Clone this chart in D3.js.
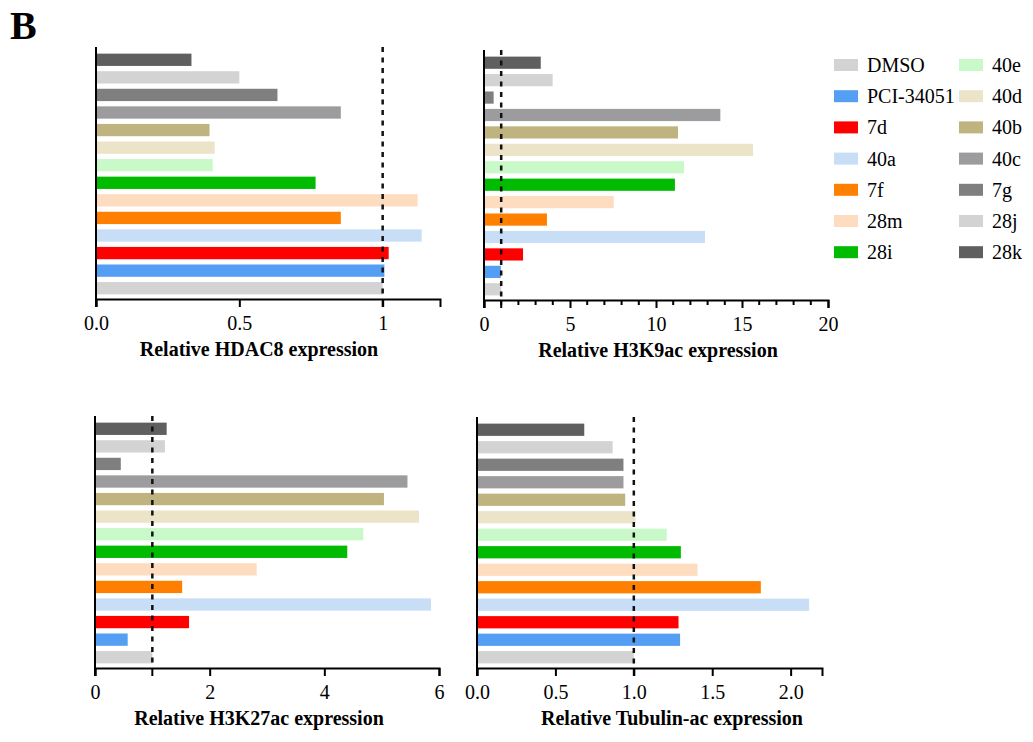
<!DOCTYPE html>
<html>
<head>
<meta charset="utf-8">
<script src="https://cdn.jsdelivr.net/npm/d3@7"></script>
<style>
  body { margin: 0; background: #fff; }
  svg { font-family: "Liberation Serif", "Times New Roman", serif; }
</style>
</head>
<body>
<div id="chart"></div>
<script>
// compounds, bottom to top in each panel
const groups = ['DMSO', 'PCI-34051', '7d', '40a', '7f', '28m', '28i', '40e', '40d', '40b', '40c', '7g', '28j', '28k'];
const colors = ['#d3d3d3', '#549ef3', '#ff0000', '#c8ddf6', '#ff7f00', '#fddcbf', '#00bb00',
  '#c9f9c9', '#ece4c8', '#bfb47f', '#9c9c9e', '#7f7f7f', '#d3d3d3', '#5f5f5f'];

const hdac8 = [1.0, 1.006, 1.021, 1.136, 0.854, 1.122, 0.766, 0.407, 0.414, 0.396, 0.854, 0.633, 0.50, 0.333];
const h3k9ac = [1.0, 0.98, 2.27, 12.85, 3.66, 7.54, 11.1, 11.63, 15.64, 11.28, 13.74, 0.56, 3.99, 3.30];
const h3k27ac = [1.0, 0.57, 1.64, 5.86, 1.52, 2.82, 4.40, 4.68, 5.65, 5.04, 5.45, 0.45, 1.22, 1.25];
const tubulinAc = [1.0, 1.295, 1.285, 2.118, 1.81, 1.406, 1.30, 1.21, 1.011, 0.945, 0.934, 0.934, 0.865, 0.684];

const panels = [
  { values: hdac8, title: 'Relative HDAC8 expression', max: 1.2,
    ticks: [0, 0.5, 1], fmt: d => d === 1 ? '1' : d3.format('.1f')(d), minor: [],
    x0: 96, x1: 440, top: 47, bottom: 299, titleX: 259 },
  { values: h3k9ac, title: 'Relative H3K9ac expression', max: 20,
    ticks: [0, 5, 10, 15, 20], fmt: d3.format('d'), minor: d3.range(1, 20),
    x0: 484, x1: 828, top: 50, bottom: 300, titleX: 658 },
  { values: h3k27ac, title: 'Relative H3K27ac expression', max: 6,
    ticks: [0, 2, 4, 6], fmt: d3.format('d'), minor: [],
    x0: 95, x1: 439, top: 416, bottom: 668, titleX: 259 },
  { values: tubulinAc, title: 'Relative Tubulin-ac expression', max: 2.2,
    ticks: [0, 0.5, 1, 1.5, 2], fmt: d3.format('.1f'), minor: [],
    x0: 477, x1: 822, top: 417, bottom: 668, titleX: 672 }
];

const svg = d3.select('#chart').append('svg')
  .attr('width', 1033)
  .attr('height', 742);

svg.append('text')
  .attr('x', 10)
  .attr('y', 39)
  .attr('font-size', '40px')
  .attr('font-weight', 'bold')
  .text('B');

panels.forEach(p => {
  const x = d3.scaleLinear().domain([0, p.max]).range([p.x0, p.x1]);
  const y = d3.scaleBand()
    .domain(groups.slice().reverse())
    .range([p.top + 4, p.bottom - 2])
    .paddingInner(0.3)
    .paddingOuter(0.15);

  const g = svg.append('g');

  g.selectAll('.bar')
    .data(groups)
    .enter().append('rect')
    .attr('class', 'bar')
    .attr('x', x(0))
    .attr('y', d => y(d))
    .attr('width', (d, i) => x(p.values[i]) - x(0))
    .attr('height', y.bandwidth())
    .style('fill', (d, i) => colors[i]);

  // minor ticks
  g.selectAll('.minor')
    .data(p.minor.filter(v => p.ticks.indexOf(v) < 0))
    .enter().append('line')
    .attr('x1', d => x(d)).attr('x2', d => x(d))
    .attr('y1', p.bottom).attr('y2', p.bottom + 5)
    .attr('stroke', '#000').attr('stroke-width', 2);

  const axis = g.append('g')
    .attr('transform', 'translate(0,' + p.bottom + ')')
    .call(d3.axisBottom(x).tickValues(p.ticks).tickFormat(p.fmt).tickSizeOuter(0).tickSize(8));
  axis.select('.domain').attr('stroke-width', 2);
  axis.selectAll('.tick line').attr('stroke-width', 2);
  axis.selectAll('.tick text')
    .attr('y', 31).attr('dy', null)
    .attr('font-size', '20px')
    .attr('font-family', '"Liberation Serif", "Times New Roman", serif')
    .attr('fill', '#000');

  // left axis line
  g.append('line')
    .attr('x1', p.x0).attr('x2', p.x0)
    .attr('y1', p.top).attr('y2', p.bottom + 8)
    .attr('stroke', '#000').attr('stroke-width', 2);

  // reference line at 1
  g.append('line')
    .attr('x1', x(1)).attr('x2', x(1))
    .attr('y1', p.top).attr('y2', p.bottom)
    .attr('stroke', '#111').attr('stroke-width', 2.5)
    .attr('stroke-dasharray', '5,5.5');
  g.append('line')
    .attr('x1', x(1)).attr('x2', x(1))
    .attr('y1', p.bottom).attr('y2', p.bottom + 8)
    .attr('stroke', '#000').attr('stroke-width', 2);

  g.append('text')
    .attr('x', p.titleX)
    .attr('y', p.bottom + 57)
    .attr('text-anchor', 'middle')
    .attr('font-size', '20px')
    .attr('font-weight', 'bold')
    .text(p.title);
});

// legend, two columns of seven
const legend = svg.append('g');
groups.forEach((name, i) => {
  const col = Math.floor(i / 7);
  const row = i % 7;
  const lx = 834 + col * 125;
  const ly = 65 + row * 31.2;
  legend.append('rect')
    .attr('x', lx).attr('y', ly - 6)
    .attr('width', 24).attr('height', 12)
    .style('fill', colors[i]);
  legend.append('text')
    .attr('x', lx + 33)
    .attr('y', ly + 7)
    .attr('font-size', '20px')
    .text(name);
});
</script>
</body>
</html>
